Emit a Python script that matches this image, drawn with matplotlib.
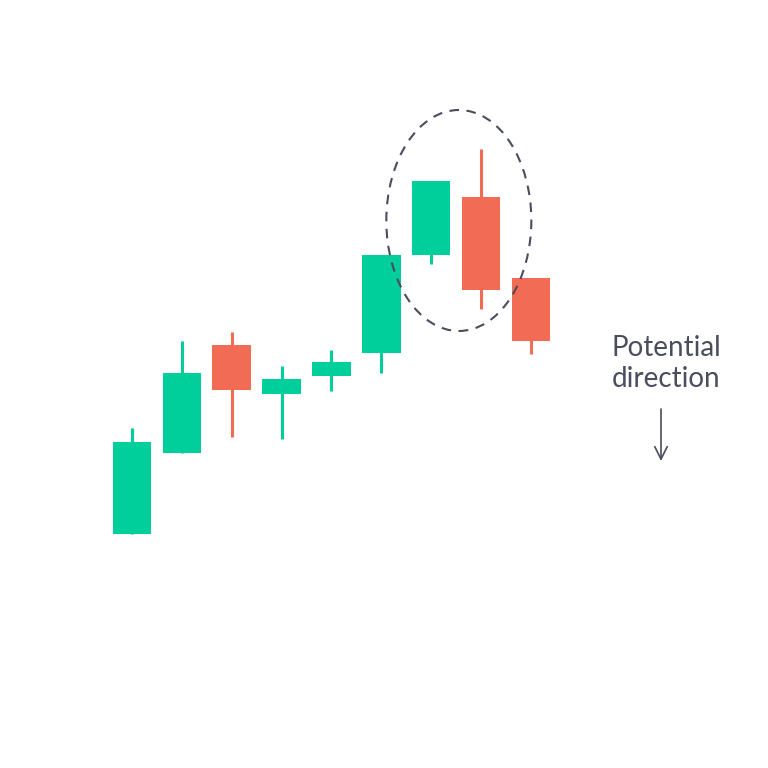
import matplotlib.pyplot as plt
from matplotlib.patches import Ellipse

# candle values (arbitrary price units)
opens = [23.4, 31.5, 42.3, 37.4, 39.2, 41.5, 51.3, 57.1, 49.0]
closes = [32.6, 39.5, 37.8, 38.9, 40.6, 51.3, 58.7, 47.8, 42.7]
highs = [34.0, 42.7, 43.6, 40.2, 41.8, 51.3, 58.7, 61.9, 49.0]
lows = [23.4, 31.5, 33.1, 32.9, 37.7, 39.5, 50.4, 45.9, 41.4]

label_text = "Potential\ndirection"

GREEN = "#00ce9b"
RED = "#f26b55"
INK = "#4a4d5e"

fig = plt.figure(figsize=(7.68, 7.68), dpi=100)
ax = fig.add_axes([0, 0, 1, 1])
ax.set_xlim(-2.648, 12.758)
ax.set_ylim(0, 76.8)
ax.axis("off")

xs = list(range(len(opens)))
colors = [GREEN if c >= o else RED for o, c in zip(opens, closes)]
ax.vlines(xs, lows, highs, colors=colors, linewidth=2.2, zorder=2)
ax.bar(xs, [abs(c - o) for o, c in zip(opens, closes)],
       bottom=[min(o, c) for o, c in zip(opens, closes)],
       width=0.772, color=colors, zorder=3)

# dashed ring around the reversal pair
ring = Ellipse((6.556, 54.75), 2.909, 22.1, fill=False, edgecolor=INK,
               linewidth=1.5, linestyle=(0, (4.6, 3.6)), zorder=4)
ax.add_patch(ring)

fig.text(612 / 768, 1 - 335 / 768, label_text, ha="left", va="top",
         fontsize=20, family="Lato", color=INK, linespacing=1.24)

ax.annotate("", xy=(661 / 768, 1 - 461 / 768), xytext=(661 / 768, 1 - 409 / 768),
            xycoords="figure fraction", textcoords="figure fraction",
            arrowprops=dict(arrowstyle="->,head_length=0.9,head_width=0.45",
                            color=INK, linewidth=1.2, shrinkA=0, shrinkB=0))

fig.savefig("out.png", dpi=100)
